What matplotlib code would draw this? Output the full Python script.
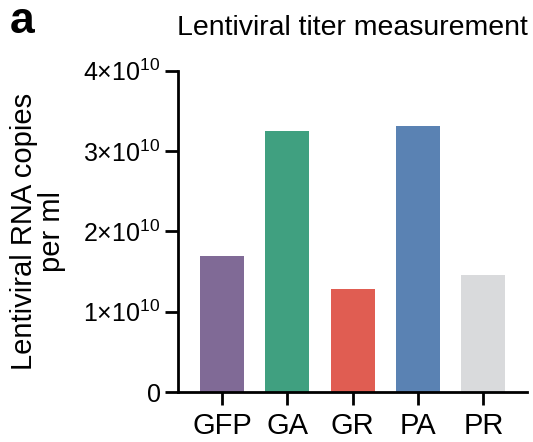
import matplotlib
matplotlib.use("Agg")
import matplotlib.pyplot as plt

plt.rcParams['font.family'] = ['Liberation Sans', 'DejaVu Sans']
plt.rcParams['mathtext.default'] = 'regular'

# dados
categorias = ["GFP", "GA", "GR", "PA", "PR"]
copias = [1.69e10, 3.25e10, 1.28e10, 3.31e10, 1.46e10]
cores = ["#806a96", "#40a080", "#e05d52", "#5a82b3", "#d9dadc"]
ticks_y = [0, 1e10, 2e10, 3e10, 4e10]
rotulos_y = ["0", r"1×10$^{10}$", r"2×10$^{10}$", r"3×10$^{10}$", r"4×10$^{10}$"]

fig = plt.figure(figsize=(5.33, 4.42), dpi=100)
ax = fig.add_axes([0.334, 0.113, 0.655, 0.727])

x = range(len(categorias))
ax.bar(x, copias, width=0.67, color=cores)

ax.set_xlim(-0.674, 4.67)
ax.set_ylim(0, 4e10)
ax.set_xticks(list(x))
ax.set_xticklabels(categorias, fontsize=21)
ax.set_yticks(ticks_y)
ax.set_yticklabels(rotulos_y, fontsize=18)

for lado in ("top", "right"):
    ax.spines[lado].set_visible(False)
for lado in ("left", "bottom"):
    ax.spines[lado].set_linewidth(2)
ax.tick_params(axis="both", length=9.5, width=2, pad=3)
ax.tick_params(axis="x", pad=5)

ax.set_ylabel("Lentiviral RNA copies\nper ml", fontsize=21, linespacing=1.0)
ax.yaxis.set_label_coords(-0.32, 0.5)

ax.set_title("Lentiviral titer measurement", fontsize=20.5, pad=26, x=0.5)
fig.text(0.018, 0.925, "a", fontsize=32, weight="bold")

fig.savefig("out.png", dpi=100)
